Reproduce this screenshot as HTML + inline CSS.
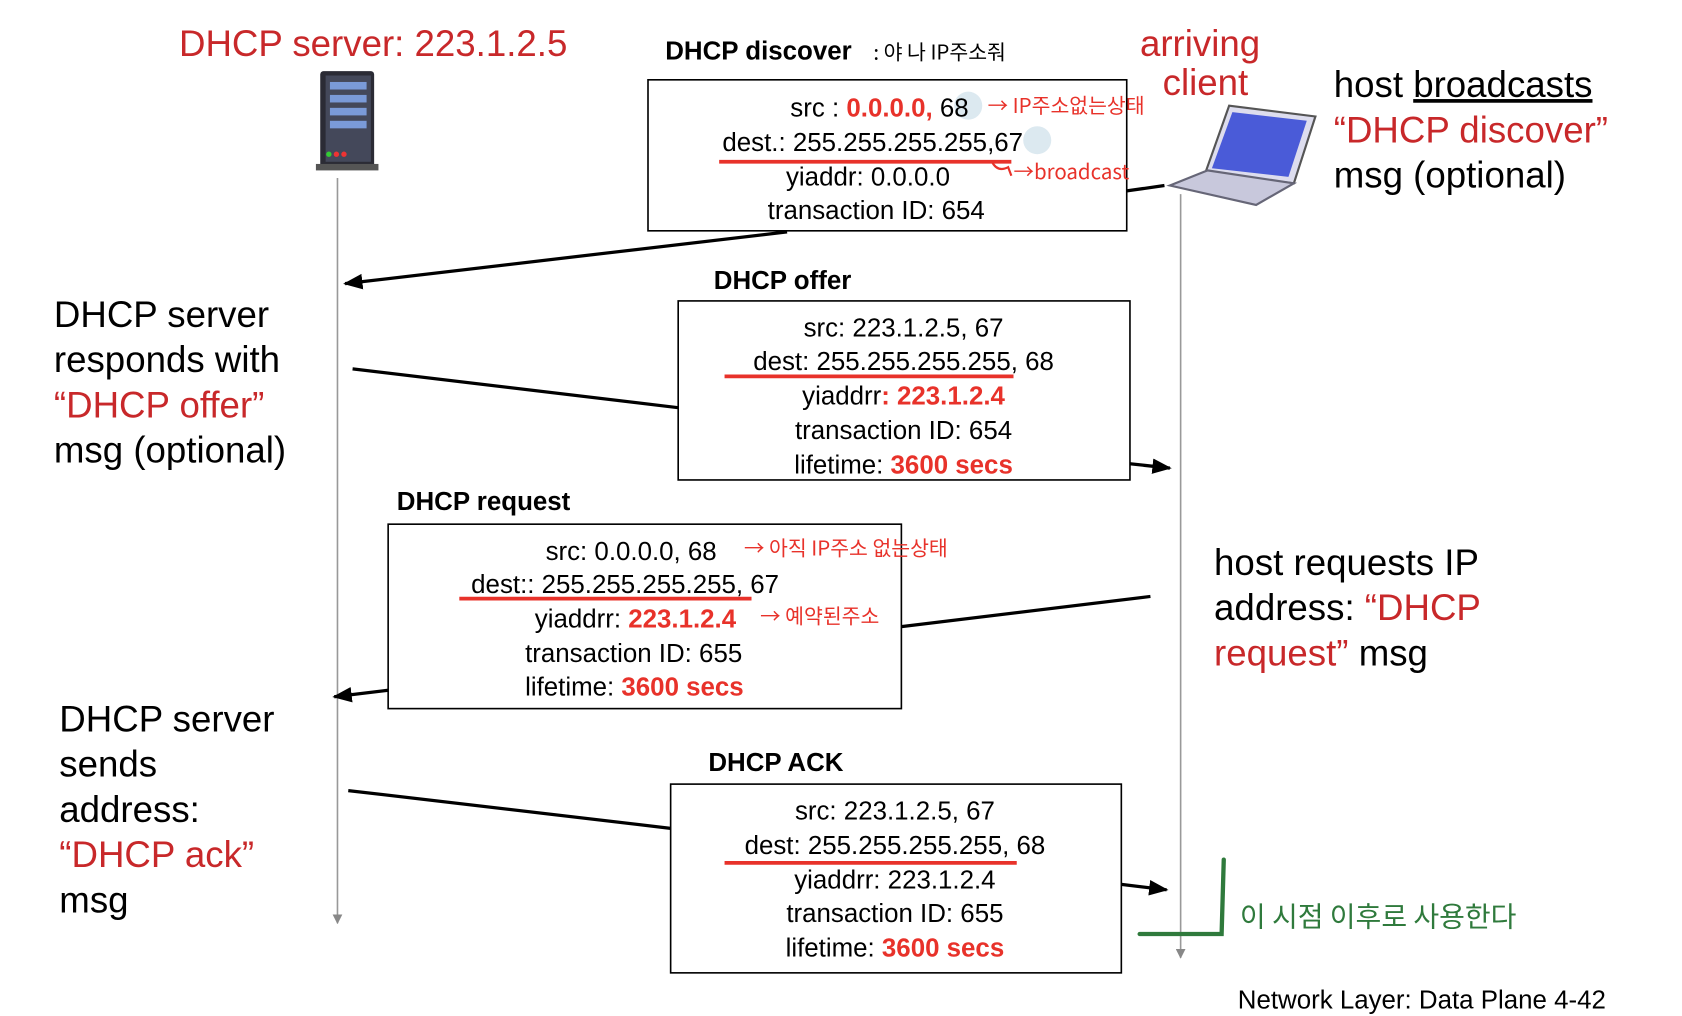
<!DOCTYPE html>
<html><head><meta charset="utf-8"><style>
html,body{margin:0;padding:0;background:#fff;}
svg{display:block;}
text{font-family:"Liberation Sans","Noto Sans CJK KR",sans-serif;}
.b{font-size:34px;fill:#000}
.r{fill:#c8282a}
.m{font-size:24px;fill:#000}
.rb{fill:#e8322a;font-weight:bold}
.lbl{font-size:24px;font-weight:bold;fill:#000}
.k{font-size:19px;fill:#e8322a;font-family:"Noto Sans CJK KR",sans-serif}
</style></head><body>
<svg width="1682" height="1016" viewBox="0 0 1560 942" preserveAspectRatio="none" xmlns="http://www.w3.org/2000/svg">
<defs>
<marker id="a" viewBox="0 0 10 10" refX="9" refY="5" markerWidth="6" markerHeight="6" orient="auto"><path d="M0,1 L10,5 L0,9 z" fill="#000"/></marker>
<marker id="g" viewBox="0 0 10 10" refX="9" refY="5" markerWidth="6" markerHeight="6" orient="auto"><path d="M0,0 L10,5 L0,10 z" fill="#888"/></marker>
</defs>
<line x1="313" y1="165" x2="313" y2="856" stroke="#999" stroke-width="1.5" marker-end="url(#g)"/>
<line x1="1095" y1="180" x2="1095" y2="888" stroke="#999" stroke-width="1.5" marker-end="url(#g)"/>
<text x="166" y="52" class="b r" font-size="34">DHCP server: 223.1.2.5</text>
<rect x="297" y="66" width="50" height="90" fill="#2b2b35" rx="3"/>
<rect x="302" y="70" width="42" height="80" fill="#44485a"/>
<rect x="306" y="76" width="34" height="7" fill="#7a9ad8"/>
<rect x="306" y="88" width="34" height="7" fill="#7a9ad8"/>
<rect x="306" y="100" width="34" height="7" fill="#7a9ad8"/>
<rect x="306" y="112" width="34" height="7" fill="#7a9ad8"/>
<circle cx="305" cy="143" r="2.5" fill="#3c3"/><circle cx="312" cy="143" r="2.5" fill="#e33"/><circle cx="319" cy="143" r="2.5" fill="#e33"/>
<rect x="293" y="152" width="58" height="6" fill="#555"/>
<polygon points="1118,160 1140,98 1220,108 1200,170" fill="#dde" stroke="#555" stroke-width="2"/>
<polygon points="1124,156 1143,104 1212,112 1195,164" fill="#4a5bd8"/>
<polygon points="1085,172 1120,158 1200,170 1165,190" fill="#c8c8dc" stroke="#667" stroke-width="2"/>
<text x="1113" y="52" class="b r" text-anchor="middle">arriving</text>
<text x="1118" y="88" class="b r" text-anchor="middle">client</text>
<text x="1237" y="90" class="b">host <tspan text-decoration="underline">broadcasts</tspan></text>
<text x="1237" y="132" class="b r">“DHCP discover”</text>
<text x="1237" y="174" class="b">msg (optional)</text>
<text x="617" y="55" class="lbl">DHCP discover</text>
<text x="810" y="55" class="k" style="fill:#000">: 야 나 IP주소줘</text>
<rect x="601" y="74" width="444" height="140" fill="#fff" stroke="#000" stroke-width="1.5"/>
<circle cx="898" cy="98" r="13" fill="#dce9f0"/><circle cx="962" cy="130" r="13" fill="#dce9f0"/>
<text x="733" y="108" class="m">src : <tspan class="rb">0.0.0.0,</tspan> 68</text>
<text x="916" y="105" class="k">→ IP주소없는상태</text>
<text x="670" y="140" class="m">dest.: 255.255.255.255,67</text>
<line x1="667" y1="150" x2="938" y2="150" stroke="#e8322a" stroke-width="3.5"/>
<path d="M920,150 q5,10 15,5 l3,8" stroke="#e8322a" stroke-width="2" fill="none"/>
<text x="940" y="166" class="k" font-size="17">→broadcast</text>
<text x="729" y="172" class="m">yiaddr:    0.0.0.0</text>
<text x="712" y="203" class="m">transaction ID: 654</text>
<line x1="1080" y1="172" x2="1045" y2="177" stroke="#000" stroke-width="3"/>
<line x1="730" y1="215" x2="320" y2="263" stroke="#000" stroke-width="3" marker-end="url(#a)"/>
<text x="50" y="303" class="b">DHCP server</text>
<text x="50" y="345" class="b">responds with</text>
<text x="50" y="387" class="b r">“DHCP offer”</text>
<text x="50" y="429" class="b">msg (optional)</text>
<text x="662" y="268" class="lbl">DHCP offer</text>
<line x1="327" y1="342" x2="629" y2="378" stroke="#000" stroke-width="3"/>
<rect x="629" y="279" width="419" height="166" fill="#fff" stroke="#000" stroke-width="1.5"/>
<text x="838" y="312" class="m" text-anchor="middle">src: 223.1.2.5, 67</text>
<text x="838" y="343" class="m" text-anchor="middle">dest:  255.255.255.255, 68</text>
<line x1="672" y1="349" x2="940" y2="349" stroke="#e8322a" stroke-width="3.5"/>
<text x="838" y="375" class="m" text-anchor="middle">yiaddrr<tspan class="rb">: 223.1.2.4</tspan></text>
<text x="838" y="407" class="m" text-anchor="middle">transaction ID: 654</text>
<text x="838" y="439" class="m" text-anchor="middle">lifetime: <tspan class="rb">3600 secs</tspan></text>
<line x1="1048" y1="430" x2="1085" y2="434" stroke="#000" stroke-width="3" marker-end="url(#a)"/>
<text x="368" y="473" class="lbl">DHCP request</text>
<rect x="360" y="486" width="476" height="171" fill="#fff" stroke="#000" stroke-width="1.5"/>
<text x="506" y="519" class="m">src:  0.0.0.0, 68</text>
<text x="690" y="515" class="k">→ 아직 IP주소 없는상태</text>
<text x="437" y="550" class="m">dest::  255.255.255.255, 67</text>
<line x1="426" y1="555" x2="697" y2="555" stroke="#e8322a" stroke-width="3.5"/>
<text x="496" y="582" class="m">yiaddrr: <tspan class="rb">223.1.2.4</tspan></text>
<text x="705" y="578" class="k">→ 예약된주소</text>
<text x="487" y="614" class="m">transaction ID: 655</text>
<text x="487" y="645" class="m">lifetime: <tspan class="rb">3600 secs</tspan></text>
<line x1="1067" y1="553" x2="836" y2="581" stroke="#000" stroke-width="3"/>
<line x1="360" y1="640" x2="310" y2="646" stroke="#000" stroke-width="3" marker-end="url(#a)"/>
<text x="1126" y="533" class="b">host requests IP</text>
<text x="1126" y="575" class="b">address: <tspan class="r">“DHCP</tspan></text>
<text x="1126" y="617" class="b"><tspan class="r">request”</tspan> msg</text>
<text x="55" y="678" class="b">DHCP server</text>
<text x="55" y="720" class="b">sends</text>
<text x="55" y="762" class="b">address:</text>
<text x="55" y="804" class="b r">“DHCP ack”</text>
<text x="55" y="846" class="b">msg</text>
<text x="657" y="715" class="lbl">DHCP ACK</text>
<line x1="323" y1="733" x2="622" y2="768" stroke="#000" stroke-width="3"/>
<rect x="622" y="727" width="418" height="175" fill="#fff" stroke="#000" stroke-width="1.5"/>
<text x="830" y="760" class="m" text-anchor="middle">src: 223.1.2.5, 67</text>
<text x="830" y="792" class="m" text-anchor="middle">dest:  255.255.255.255, 68</text>
<line x1="672" y1="800" x2="943" y2="800" stroke="#e8322a" stroke-width="3.5"/>
<text x="830" y="824" class="m" text-anchor="middle">yiaddrr: 223.1.2.4</text>
<text x="830" y="855" class="m" text-anchor="middle">transaction ID: 655</text>
<text x="830" y="887" class="m" text-anchor="middle">lifetime: <tspan class="rb">3600 secs</tspan></text>
<line x1="1040" y1="820" x2="1082" y2="825" stroke="#000" stroke-width="3" marker-end="url(#a)"/>
<path d="M1057,866 L1133,866 L1135,797" stroke="#2f7a3c" stroke-width="4" fill="none" stroke-linecap="round"/>
<text x="1150" y="859" font-size="26" fill="#2f7a3c" style="font-family:'Noto Sans CJK KR',sans-serif">이 시점 이후로 사용한다</text>
<text x="1148" y="935" font-size="24" fill="#000">Network Layer: Data Plane  4-42</text>
</svg>
</body></html>
